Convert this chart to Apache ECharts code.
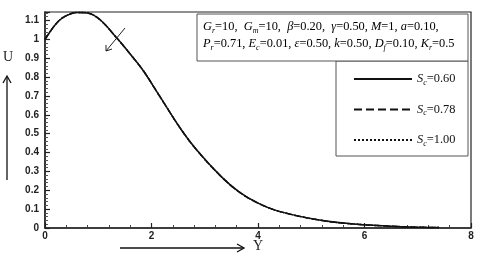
<!DOCTYPE html>
<html>
<head>
<meta charset="utf-8">
<script src="https://cdn.jsdelivr.net/npm/echarts@6/dist/echarts.min.js"></script>
<style>
html, body { margin: 0; padding: 0; background: #fff; }
#chart { width: 480px; height: 261px; }
</style>
</head>
<body>
<div id="chart"></div>
<script>
// values
var yPoints = [0, 0.2, 0.35, 0.6, 0.8, 1.03, 1.37, 1.6, 1.85, 2.15, 2.55, 2.85, 3.3, 3.65, 4.0, 4.4, 5.15, 5.8, 6.7, 7.4]
var uSc060 = [1.0, 1.08, 1.118, 1.143, 1.14, 1.105, 1.0, 0.922, 0.832, 0.7, 0.525, 0.413, 0.275, 0.19, 0.132, 0.088, 0.042, 0.021, 0.007, 0.002]
// the three curves coincide at this scale
var uSc078 = uSc060
var uSc100 = uSc060
var scLabels = ['0.60', '0.78', '1.00']
var xTicks = { min: 0, max: 8, interval: 2 }
var yTicks = { min: 0, max: 1.145, interval: 0.1 }

function pairs(xs, ys) {
    return xs.map(function (x, i) { return [x, ys[i]] })
}

var serif = '"Liberation Serif", "DejaVu Serif", serif'
var sub = { fontFamily: serif, fontSize: 8, fontStyle: 'italic', padding: [7, 0, 0, 0], color: '#111' }
var it = { fontFamily: serif, fontSize: 12.4, fontStyle: 'italic', color: '#111' }
var nm = { fontFamily: serif, fontSize: 12.4, color: '#111' }

var chart = echarts.init(document.getElementById('chart'))
var styles = ['solid', 'dashed', 'dotted']
var datas = [uSc060, uSc078, uSc100]

chart.setOption({
    animation: false,
    backgroundColor: '#fff',
    grid: { left: 45, right: 9, top: 12, bottom: 33, show: true, borderColor: '#222', borderWidth: 1.2 },
    xAxis: {
        type: 'value', min: xTicks.min, max: xTicks.max, interval: xTicks.interval,
        axisLine: { lineStyle: { color: '#222', width: 1.5 } },
        axisTick: { inside: true, length: 5, lineStyle: { color: '#222', width: 1.2 } },
        minorTick: { show: true, splitNumber: 5, length: 3, lineStyle: { color: '#444' } },
        axisLabel: { color: '#222', fontFamily: 'Arial, "Liberation Sans", sans-serif', fontWeight: 'bold', fontSize: 10, margin: 3 },
        splitLine: { show: false }
    },
    yAxis: {
        type: 'value', min: yTicks.min, max: yTicks.max, interval: yTicks.interval,
        axisLine: { show: true, lineStyle: { color: '#222', width: 1.5 } },
        axisTick: { show: true, inside: true, length: 5, lineStyle: { color: '#222', width: 1.2 } },
        minorTick: { show: true, splitNumber: 5, length: 3, lineStyle: { color: '#555' } },
        axisLabel: { color: '#222', fontFamily: 'Arial, "Liberation Sans", sans-serif', fontWeight: 'bold', fontSize: 10, margin: 6, showMaxLabel: false },
        splitLine: { show: false }
    },
    legend: {
        orient: 'vertical', left: 348, top: 68, itemWidth: 58, itemHeight: 14, itemGap: 17,
        itemStyle: { opacity: 0 },
        data: scLabels.map(function (s) { return 'Sc=' + s }),
        formatter: function (name) { return '{i|S}{s|c}{n|=' + name.slice(3) + '}' },
        textStyle: { rich: { i: it, s: sub, n: nm } }
    },
    series: scLabels.map(function (s, k) {
        return {
            name: 'Sc=' + s, type: 'line', smooth: 0.35, symbol: 'none',
            data: pairs(yPoints, datas[k]),
            lineStyle: { color: '#111', width: 1.5, type: styles[k] },
            z: 3 - k
        }
    }),
    graphic: [
        // parameter box
        { type: 'rect', shape: { x: 197, y: 14, width: 271, height: 47 }, style: { fill: '#fff', stroke: '#555', lineWidth: 1 }, z: 10 },
        {
            type: 'text', left: 203, top: 21, z: 11,
            style: {
                text: '{i|G}{s|r}{n|=10,  }{i|G}{s|m}{n|=10,  }{i|β}{n|=0.20,  }{i|γ}{n|=0.50, }{i|M}{n|=1, }{i|a}{n|=0.10,}\n' +
                      '{i|P}{s|r}{n|=0.71, }{i|E}{s|c}{n|=0.01, }{i|ε}{n|=0.50, }{i|k}{n|=0.50, }{i|D}{s|f}{n|=0.10, }{i|K}{s|r}{n|=0.5}',
                rich: { i: Object.assign({ lineHeight: 17 }, it), s: sub, n: Object.assign({ lineHeight: 17 }, nm) }
            }
        },
        // legend box
        { type: 'rect', shape: { x: 336, y: 61, width: 132, height: 95 }, style: { fill: '#fff', stroke: '#555', lineWidth: 1 }, z: 0 },
        // arrow inside the plot
        { type: 'line', shape: { x1: 125, y1: 28, x2: 106, y2: 51 }, style: { stroke: '#222', lineWidth: 1 }, z: 5 },
        { type: 'polyline', shape: { points: [[106, 45], [106, 51], [112, 49]] }, style: { stroke: '#222', lineWidth: 1, fill: null }, z: 5 },
        // axis names with arrows
        { type: 'text', left: 3, top: 50, style: { text: 'U', font: '14px ' + serif, fill: '#222' } },
        { type: 'line', shape: { x1: 7, y1: 180, x2: 7, y2: 77 }, style: { stroke: '#111', lineWidth: 1.3 } },
        { type: 'polyline', shape: { points: [[3, 83], [7, 76], [11, 83]] }, style: { stroke: '#111', lineWidth: 1.3, fill: null } },
        { type: 'text', left: 253, top: 239, style: { text: 'Y', font: '14px ' + serif, fill: '#222' } },
        { type: 'line', shape: { x1: 120, y1: 248, x2: 244, y2: 248 }, style: { stroke: '#111', lineWidth: 1.3 } },
        { type: 'polyline', shape: { points: [[237, 244], [244, 248], [237, 252]] }, style: { stroke: '#111', lineWidth: 1.3, fill: null } }
    ]
})
</script>
</body>
</html>
